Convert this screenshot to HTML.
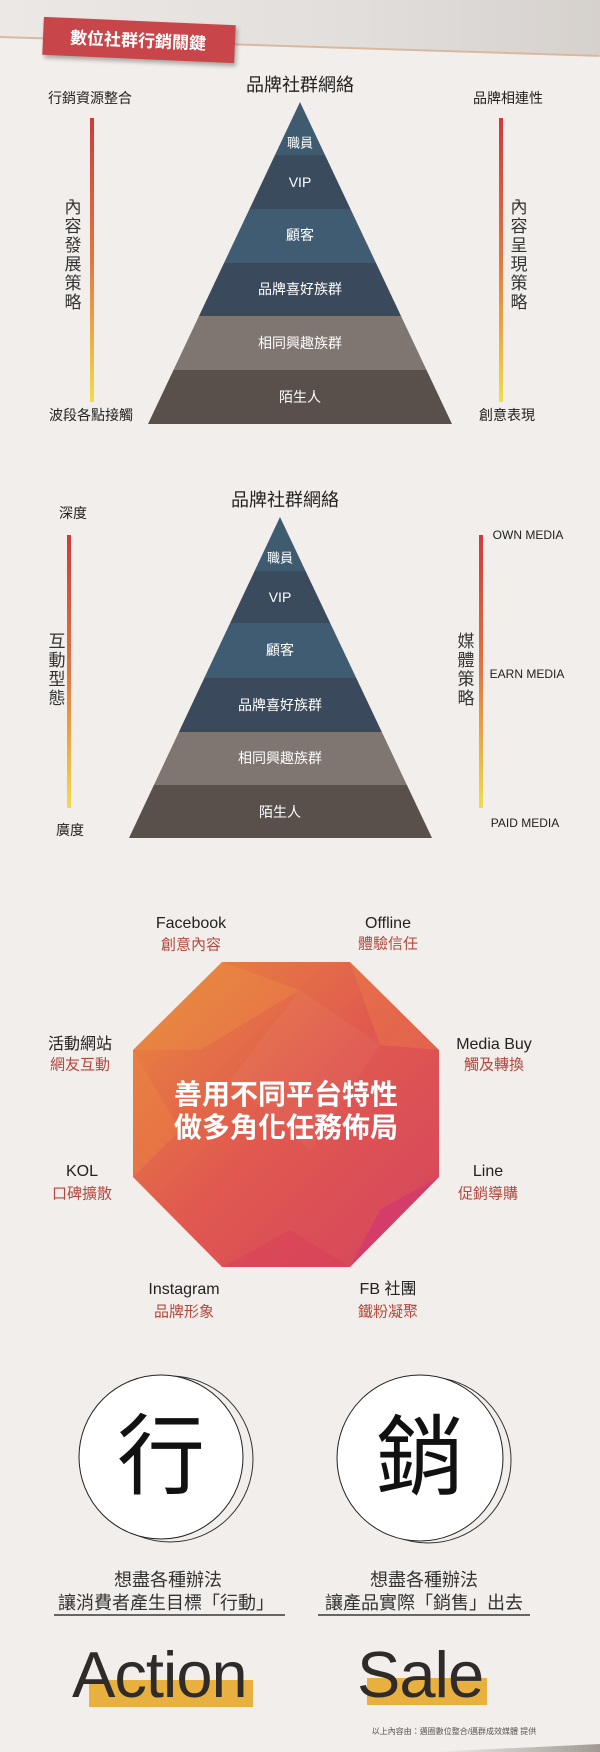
<!DOCTYPE html>
<html><head><meta charset="utf-8"><style>
body{margin:0;background:#f2eeeb;}
#p{position:relative;width:600px;height:1752px;overflow:hidden;background:#f2eeeb;font-family:"Liberation Sans","Noto Sans CJK TC",sans-serif;color:#222;}
.t{position:absolute;transform:translate(-50%,-50%);white-space:nowrap;line-height:1;}
.v{position:absolute;transform:translateX(-50%);line-height:19px;font-size:17px;text-align:center;color:#333;}
.bar{position:absolute;width:4px;background:linear-gradient(#cf3a3a,#e3763f 50%,#f1dc4a);}
.w{color:#fff;}
.r{color:#b5473d;}
</style></head><body><div id="p">
<!-- header band -->
<div style="position:absolute;left:0;top:0;width:600px;height:60px;background:linear-gradient(90deg,#ece8e5,#e2dedb 60%,#d6d1cd);clip-path:polygon(0 0,600px 0,600px 55px,0 36px);"></div>
<div style="position:absolute;left:0;top:36px;width:600px;height:2px;background:#d9b8a0;transform-origin:0 0;transform:rotate(1.8deg);"></div>
<div style="position:absolute;left:43px;top:21px;width:192px;height:38px;background:#c8464a;transform:rotate(2.5deg);box-shadow:2px 3px 4px rgba(0,0,0,.3);"></div>
<div class="t w" style="left:138px;top:41px;font-size:17px;font-weight:bold;transform:translate(-50%,-50%) rotate(2.5deg);">數位社群行銷關鍵</div>

<!-- pyramid 1 -->
<svg style="position:absolute;left:0;top:0" width="600" height="900">
<defs>
<clipPath id="c1"><polygon points="300,102 452,424 148,424"/></clipPath>
<clipPath id="c2"><polygon points="280,517 432,838 129,838"/></clipPath>
</defs>
<g clip-path="url(#c1)">
<rect x="140" y="100" width="320" height="55" fill="#3f5b70"/>
<rect x="140" y="155" width="320" height="54" fill="#3a4b5d"/>
<rect x="140" y="209" width="320" height="54" fill="#405c72"/>
<rect x="140" y="263" width="320" height="53" fill="#3a4a5c"/>
<rect x="140" y="316" width="320" height="54" fill="#7f7571"/>
<rect x="140" y="370" width="320" height="54" fill="#5a504b"/>
</g>
<g clip-path="url(#c2)">
<rect x="120" y="515" width="320" height="56" fill="#3f5b70"/>
<rect x="120" y="571" width="320" height="52" fill="#3a4b5d"/>
<rect x="120" y="623" width="320" height="55" fill="#405c72"/>
<rect x="120" y="678" width="320" height="54" fill="#3a4a5c"/>
<rect x="120" y="732" width="320" height="53" fill="#7f7571"/>
<rect x="120" y="785" width="320" height="53" fill="#5a504b"/>
</g>
</svg>
<div class="t" style="left:300px;top:85px;font-size:18px;">品牌社群網絡</div>
<div class="t" style="left:90px;top:98px;font-size:14px;">行銷資源整合</div>
<div class="t" style="left:91px;top:415px;font-size:14px;">波段各點接觸</div>
<div class="bar" style="left:90px;top:118px;height:284px;"></div>
<div class="v" style="left:73px;top:198px;">內<br>容<br>發<br>展<br>策<br>略</div>
<div class="t" style="left:508px;top:98px;font-size:14px;">品牌相連性</div>
<div class="t" style="left:507px;top:415px;font-size:14px;">創意表現</div>
<div class="bar" style="left:499px;top:118px;height:284px;"></div>
<div class="v" style="left:519px;top:198px;">內<br>容<br>呈<br>現<br>策<br>略</div>
<div class="t w" style="left:300px;top:143px;font-size:13px;">職員</div>
<div class="t w" style="left:300px;top:182px;font-size:14px;">VIP</div>
<div class="t w" style="left:300px;top:235px;font-size:14px;">顧客</div>
<div class="t w" style="left:300px;top:289px;font-size:14px;">品牌喜好族群</div>
<div class="t w" style="left:300px;top:343px;font-size:14px;">相同興趣族群</div>
<div class="t w" style="left:300px;top:397px;font-size:14px;">陌生人</div>

<!-- pyramid 2 -->
<div class="t" style="left:285px;top:500px;font-size:18px;">品牌社群網絡</div>
<div class="t" style="left:73px;top:513px;font-size:14px;">深度</div>
<div class="t" style="left:70px;top:830px;font-size:14px;">廣度</div>
<div class="bar" style="left:67px;top:535px;height:273px;"></div>
<div class="v" style="left:57px;top:632px;">互<br>動<br>型<br>態</div>
<div class="bar" style="left:479px;top:535px;height:273px;"></div>
<div class="v" style="left:466px;top:632px;">媒<br>體<br>策<br>略</div>
<div class="t" style="left:528px;top:535px;font-size:12px;">OWN MEDIA</div>
<div class="t" style="left:527px;top:674px;font-size:12px;">EARN MEDIA</div>
<div class="t" style="left:525px;top:823px;font-size:12px;">PAID MEDIA</div>
<div class="t w" style="left:280px;top:558px;font-size:13px;">職員</div>
<div class="t w" style="left:280px;top:597px;font-size:14px;">VIP</div>
<div class="t w" style="left:280px;top:650px;font-size:14px;">顧客</div>
<div class="t w" style="left:280px;top:705px;font-size:14px;">品牌喜好族群</div>
<div class="t w" style="left:280px;top:758px;font-size:14px;">相同興趣族群</div>
<div class="t w" style="left:280px;top:812px;font-size:14px;">陌生人</div>

<!-- octagon -->
<svg style="position:absolute;left:0;top:900px" width="600" height="420">
<defs>
<linearGradient id="og" x1="0" y1="0" x2="1" y2="1">
<stop offset="0" stop-color="#e98a3d"/><stop offset="0.5" stop-color="#e0594f"/><stop offset="0.85" stop-color="#d84a5a"/><stop offset="1" stop-color="#d43a70"/>
</linearGradient>
</defs>
<polygon points="222,62 350,62 439,150 439,277 350,367 222,367 133,277 133,150" fill="url(#og)"/>
<polygon points="222,62 300,90 200,150 133,150" fill="#f0a040" opacity=".25"/>
<polygon points="350,62 439,150 380,145" fill="#ef8a45" opacity=".3"/>
<polygon points="133,150 180,230 133,277" fill="#ee8a40" opacity=".35"/>
<polygon points="439,277 350,367 380,310" fill="#d0307a" opacity=".5"/>
<polygon points="222,367 290,330 350,367" fill="#d83c5c" opacity=".4"/>
<polygon points="300,90 380,145 310,250 230,180" fill="#fff" opacity=".04"/>
</svg>
<div class="t w" style="left:286px;top:1095px;font-size:28px;font-weight:bold;">善用不同平台特性</div>
<div class="t w" style="left:286px;top:1128px;font-size:28px;font-weight:bold;">做多角化任務佈局</div>
<div class="t" style="left:191px;top:924px;font-size:16px;">Facebook</div>
<div class="t r" style="left:191px;top:945px;font-size:15px;">創意內容</div>
<div class="t" style="left:388px;top:924px;font-size:16px;">Offline</div>
<div class="t r" style="left:388px;top:944px;font-size:15px;">體驗信任</div>
<div class="t" style="left:80px;top:1045px;font-size:16px;">活動網站</div>
<div class="t r" style="left:80px;top:1065px;font-size:15px;">網友互動</div>
<div class="t" style="left:494px;top:1045px;font-size:16px;">Media Buy</div>
<div class="t r" style="left:494px;top:1065px;font-size:15px;">觸及轉換</div>
<div class="t" style="left:82px;top:1172px;font-size:16px;">KOL</div>
<div class="t r" style="left:82px;top:1194px;font-size:15px;">口碑擴散</div>
<div class="t" style="left:488px;top:1172px;font-size:16px;">Line</div>
<div class="t r" style="left:488px;top:1194px;font-size:15px;">促銷導購</div>
<div class="t" style="left:184px;top:1290px;font-size:16px;">Instagram</div>
<div class="t r" style="left:184px;top:1312px;font-size:15px;">品牌形象</div>
<div class="t" style="left:388px;top:1290px;font-size:16px;">FB 社團</div>
<div class="t r" style="left:388px;top:1312px;font-size:15px;">鐵粉凝聚</div>

<!-- circles -->
<svg style="position:absolute;left:0;top:1330px" width="600" height="250">
<circle cx="170" cy="129" r="83" fill="none" stroke="#333" stroke-width="1"/>
<circle cx="161" cy="127" r="82" fill="#fff" stroke="#222" stroke-width="1"/>
<circle cx="428" cy="130" r="83" fill="none" stroke="#333" stroke-width="1"/>
<circle cx="420" cy="128" r="83" fill="#fff" stroke="#222" stroke-width="1"/>
</svg>
<div class="t" style="left:161px;top:1457px;font-size:88px;color:#111;">行</div>
<div class="t" style="left:420px;top:1458px;font-size:88px;color:#111;">銷</div>
<div class="t" style="left:168px;top:1580px;font-size:18px;color:#333;">想盡各種辦法</div>
<div class="t" style="left:166px;top:1603px;font-size:18px;color:#333;">讓消費者產生目標「行動」</div>
<div style="position:absolute;left:54px;top:1614px;width:231px;height:2px;background:#666;"></div>
<div class="t" style="left:424px;top:1580px;font-size:18px;color:#333;">想盡各種辦法</div>
<div class="t" style="left:424px;top:1603px;font-size:18px;color:#333;">讓產品實際「銷售」出去</div>
<div style="position:absolute;left:318px;top:1614px;width:212px;height:2px;background:#666;"></div>
<div style="position:absolute;left:89px;top:1680px;width:164px;height:27px;background:#e8b13f;"></div>
<div style="position:absolute;left:367px;top:1678px;width:120px;height:27px;background:#e8b13f;"></div>
<div style="position:absolute;left:72px;top:1642px;font-size:65px;line-height:65px;color:#2e2b2a;letter-spacing:-1px;">Action</div>
<div style="position:absolute;left:357px;top:1642px;font-size:65px;line-height:65px;color:#2e2b2a;letter-spacing:-1px;">Sale</div>
<div class="t" style="left:454px;top:1732px;font-size:8px;color:#555;">以上內容由：邁圈數位整合/邁群成效媒體 提供</div>
<div style="position:absolute;left:430px;top:1744px;width:170px;height:8px;background:linear-gradient(90deg,rgba(160,150,140,0),#a09a92);clip-path:polygon(0 100%,100% 0,100% 100%);"></div>
</div></body></html>
